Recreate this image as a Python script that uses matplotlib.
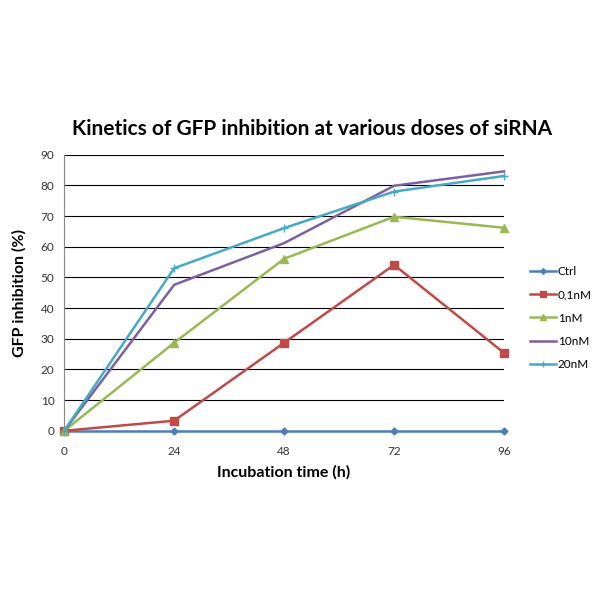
import numpy as np
from matplotlib import pyplot as plt

hours = [0, 24, 48, 72, 96]
ctrl = [0, 0, 0, 0, 0]
dose_01nM = [0, 3.3, 28.7, 54.1, 25.4]
dose_1nM = [0, 28.7, 56.1, 69.8, 66.2]
dose_10nM = [0, 47.6, 61.2, 79.9, 84.6]
dose_20nM = [0, 53.0, 66.1, 78.0, 83.1]
series_names = ['Ctrl', '0,1nM', '1nM', '10nM', '20nM']
y_ticks = [0, 10, 20, 30, 40, 50, 60, 70, 80, 90]

plt.rcParams['font.family'] = ['Lato', 'DejaVu Sans']

fig = plt.figure(figsize=(6, 6), dpi=100)
ax = fig.add_axes([0.107, 0.282, 0.733, 0.46])

styles = [
	dict(color='#4A7EBB', marker='D', markersize=3.5),
	dict(color='#BE4B48', marker='s', markersize=6),
	dict(color='#98B954', marker='^', markersize=6),
	dict(color='#7D60A0', marker=None),
	dict(color='#46AAC5', marker='+', markersize=6, markeredgewidth=1),
]
all_series = [ctrl, dose_01nM, dose_1nM, dose_10nM, dose_20nM]
lines = []
for vals, name, st in zip(all_series, series_names, styles):
	ln, = ax.plot(hours, vals, linewidth=1.8, label=name, clip_on=False, zorder=3, **st)
	lines.append(ln)

ax.set_xlim(0, 96)
ax.set_ylim(0, 90)
ax.set_xticks(hours)
ax.set_yticks(y_ticks)
for yv in y_ticks[1:]:
	ax.axhline(yv, color='black', linewidth=0.8, zorder=1)
for side in ['top', 'right', 'bottom']:
	ax.spines[side].set_visible(False)
ax.spines['left'].set_color('#888888')
ax.tick_params(axis='y', length=0, labelsize=8.5, colors='#333333', pad=7)
ax.tick_params(axis='x', length=0, labelsize=8.5, colors='#333333', pad=11)

ax.set_xlabel('Incubation time (h)', fontsize=11.5, fontweight='bold', labelpad=6)
ax.set_ylabel('GFP inhibition (%)', fontsize=11.5, fontweight='bold', labelpad=10)
fig.text(0.52, 0.785, 'Kinetics of GFP inhibition at various doses of siRNA',
	ha='center', va='center', fontsize=15, fontweight='bold')

fig.legend(handles=lines, loc='center left', bbox_to_anchor=(0.865, 0.47),
	frameon=False, fontsize=8.5, handlelength=2.2, labelspacing=1.05,
	handletextpad=0.2, markerscale=0.8)

fig.savefig('out.png', dpi=100)
